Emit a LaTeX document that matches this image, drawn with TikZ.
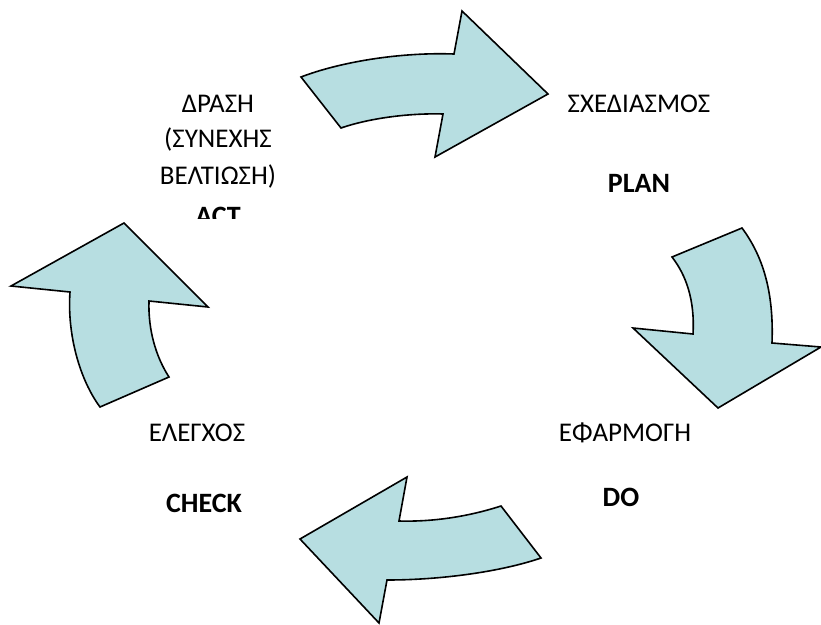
\documentclass[tikz,border=0pt]{standalone}
\usepackage{fontspec}
\setmainfont{Carlito}
\begin{document}
\begin{tikzpicture}[x=1pt,y=-1pt,
  cyclearrow/.style={draw=black,line width=1.6pt,fill=arrowfill,line join=miter},
  label/.style={inner sep=0pt,font=\fontsize{27}{31}\selectfont},
  boldlabel/.style={label,font=\fontsize{28}{32}\selectfont\bfseries}]
\definecolor{arrowfill}{HTML}{B7DEE1}
\useasboundingbox (0,0) rectangle (821,624);

% PLAN -> DO (top arrow)
\draw[cyclearrow] (301,77) .. controls (340,62) and (400,52) .. (454,54)
  -- (462,11) -- (548,94) -- (435,157) -- (443,114)
  .. controls (410,113) and (370,118) .. (341,128) -- cycle;

% DO (right arrow)
\draw[cyclearrow] (742,228) .. controls (762,255) and (774,290) .. (772,343)
  -- (821,347) -- (718,408) -- (633,328) -- (693,334)
  .. controls (695,300) and (686,275) .. (672,257) -- cycle;

% CHECK (bottom arrow)
\draw[cyclearrow] (501,506) .. controls (470,516) and (435,522) .. (399,521)
  -- (407,477) -- (300,539) -- (379,623) -- (387,580)
  .. controls (440,580) and (500,572) .. (541,558) -- cycle;

% ACT (left arrow)
\draw[cyclearrow] (100,407) .. controls (80,380) and (67,335) .. (70,292)
  -- (11,286) -- (124,223) -- (208,307) -- (149,301)
  .. controls (148,330) and (156,357) .. (169,377) -- cycle;

% labels
\node[label] (plangr) at (639,104) {ΣΧΕΔΙΑΣΜΟΣ};
\node[boldlabel] (plan) at (639,183) {PLAN};
\node[label] (dogr) at (625,433) {ΕΦΑΡΜΟΓΗ};
\node[boldlabel] (do) at (621,497) {DO};
\node[label] (checkgr) at (197,433) {ΕΛΕΓΧΟΣ};
\node[boldlabel] (check) at (204,503) {CHECK};
\begin{scope}
  \clip (120,80) rectangle (320,218);
  \node[label] (actgr1) at (218,104) {ΔΡΑΣΗ};
  \node[label] (actgr2) at (218,140) {(ΣΥΝΕΧΗΣ};
  \node[label] (actgr3) at (218,176) {ΒΕΛΤΙΩΣΗ)};
  \node[boldlabel] (act) at (218,216) {ACT};
\end{scope}
\end{tikzpicture}
\end{document}
